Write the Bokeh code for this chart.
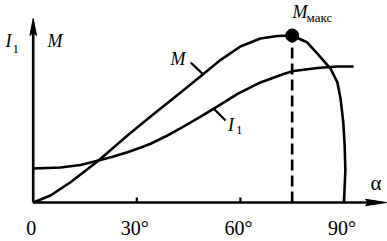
from bokeh.plotting import figure
from bokeh.models import Range1d
from bokeh.core.properties import value
from bokeh.embed import file_html
from bokeh.resources import INLINE

# ---- data (alpha in degrees, values in relative units) ----
M_alpha = [0, 5.0, 10.7, 18.6, 27.3, 34.0, 42.7, 49.3, 54.2, 60.0, 65.8, 70.7,
           75.0, 79.4, 82.3, 86.1, 88.1, 89.0, 89.8, 90.2, 90.4, 90.0]
M_val = [0, 0.042, 0.120, 0.246, 0.401, 0.515, 0.659, 0.769, 0.853, 0.934, 0.982, 0.997,
         1.0, 0.958, 0.892, 0.802, 0.719, 0.623, 0.479, 0.341, 0.192, 0]

I1_alpha = [0, 7.9, 13.7, 18.6, 23.0, 27.3, 31.0, 34.0, 38.3, 43.5, 48.0, 52.2, 59.2,
            65.8, 72.5, 75.4, 82.3, 88.1, 92.8]
I1_val = [0.204, 0.210, 0.225, 0.250, 0.274, 0.301, 0.328, 0.352, 0.395, 0.455, 0.508,
          0.560, 0.650, 0.719, 0.769, 0.787, 0.805, 0.814, 0.814]

M_max_alpha = 75.0
M_max_val = 1.0

tick_values = [0, 30, 60, 90]
tick_labels = ["0", "30°", "60°", "90°"]

# ---- layout constants ----
PX_X = 3.453   # px per degree
PX_Y = 167.0   # px per unit
X0_PX, Y0_PX = 32.7, 202.0
W, H = 387, 241

def dx(px):
    return px / PX_X

def dy(px):
    return px / PX_Y

p = figure(width=W, height=H, output_backend="svg", toolbar_location=None,
           title=None, x_axis_location=None, y_axis_location=None, min_border=0,
           x_range=Range1d(-X0_PX / PX_X, (W - X0_PX) / PX_X),
           y_range=Range1d(-(H - Y0_PX) / PX_Y, Y0_PX / PX_Y))
p.grid.visible = False
p.outline_line_color = None
p.background_fill_color = "white"
p.border_fill_color = "white"

LW = 2.6
BLACK = "black"

# axes
x_tip = dx(386 - X0_PX)
y_tip = dy(Y0_PX - 18)
p.segment(x0=[0, 0], y0=[0, 0], x1=[x_tip - dx(12), 0], y1=[0, y_tip - dy(10)],
          line_color=BLACK, line_width=LW)
# arrow heads
p.patch([x_tip, x_tip - dx(21), x_tip - dx(18), x_tip - dx(21)],
        [0, dy(3.2), 0, -dy(3.2)], color=BLACK, line_width=1)
p.patch([0, -dx(3.3), 0, dx(3.3)],
        [y_tip, y_tip - dy(17), y_tip - dy(14), y_tip - dy(17)], color=BLACK, line_width=1)

# ticks
p.segment(x0=tick_values[1:], y0=[0] * 3, x1=tick_values[1:], y1=[dy(5)] * 3,
          line_color=BLACK, line_width=2.2)
p.text(x=tick_values, y=[-dy(32.5)] * 4, text=tick_labels, x_offset=-2, y_offset=-7,
       text_font=value("Liberation Serif"), text_font_size="20px",
       text_align="center", text_baseline="alphabetic", text_color=BLACK)

# curves
p.line(I1_alpha, I1_val, line_color=BLACK, line_width=LW, line_join="round")
p.line(M_alpha, M_val, line_color=BLACK, line_width=LW, line_join="round")

# max marker and dashed drop line
p.segment(x0=[M_max_alpha], y0=[0], x1=[M_max_alpha], y1=[M_max_val],
          line_color=BLACK, line_width=LW, line_dash="11 5")
p.scatter([M_max_alpha], [M_max_val], size=13, color=BLACK)

# leader lines
p.segment(x0=[45.6, 52.3], y0=[0.838, 0.561], x1=[49.3, 55.7], y1=[0.766, 0.491],
          line_color=BLACK, line_width=2.2)

# italic labels
ital = dict(text_font=value("Liberation Serif"), text_font_style="italic",
            text_font_size="18px", text_align="left", text_baseline="alphabetic",
            text_color=BLACK, y_offset=-6)
p.text(x=[dx(5 - X0_PX), dx(47 - X0_PX), dx(170 - X0_PX), dx(227.5 - X0_PX), dx(292 - X0_PX)],
       y=[dy(Y0_PX - 46), dy(Y0_PX - 46), dy(Y0_PX - 64), dy(Y0_PX - 130), dy(Y0_PX - 17)],
       text=["I", "M", "M", "I", "M"], **ital)

sub = dict(text_font=value("Liberation Serif"), text_font_size="13px",
           text_align="left", text_baseline="alphabetic", text_color=BLACK, y_offset=-4)
p.text(x=[dx(12 - X0_PX), dx(235.5 - X0_PX), dx(306 - X0_PX)],
       y=[dy(Y0_PX - 52), dy(Y0_PX - 133.5), dy(Y0_PX - 20.5)],
       text=["1", "1", "макс"], **sub)

p.text(x=[dx(370 - X0_PX)], y=[dy(Y0_PX - 188)], text=["α"], y_offset=-6,
       text_font=value("Liberation Serif"), text_font_size="21px",
       text_align="left", text_baseline="alphabetic", text_color=BLACK)

open("out.html", "w").write(file_html(p, INLINE))
